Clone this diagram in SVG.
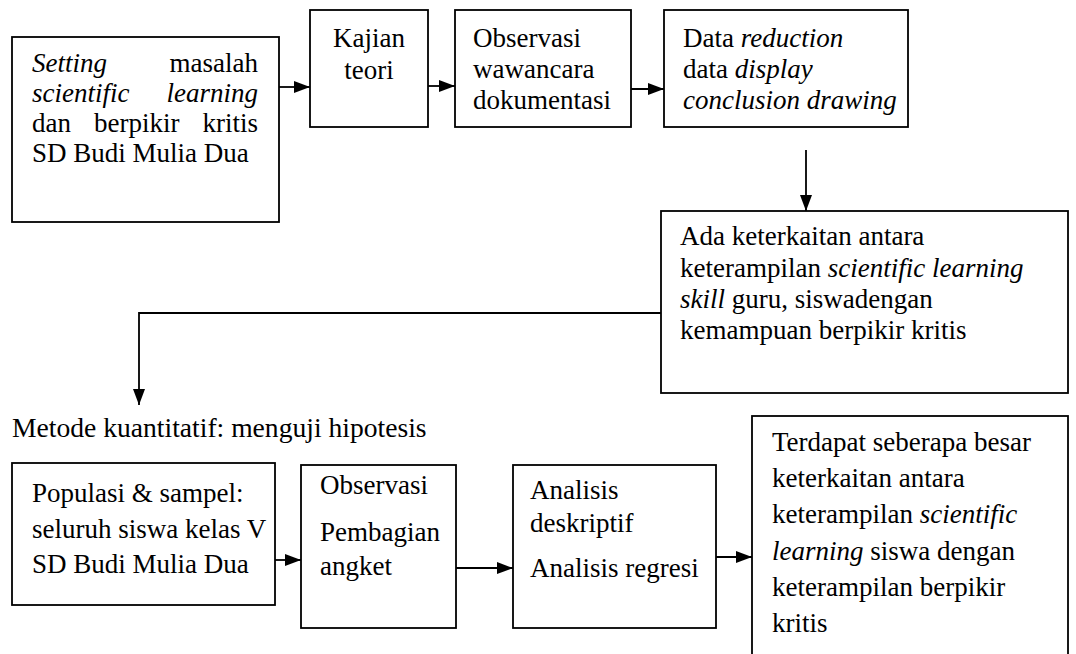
<svg xmlns="http://www.w3.org/2000/svg" width="1076" height="654" viewBox="0 0 1076 654">
<style>
.box{fill:#fff;stroke:#000;stroke-width:1.8}
text{font-family:"Liberation Serif","Times New Roman",serif;font-size:27px;fill:#000}
.i{font-style:italic}
.c{text-anchor:middle}
.e{text-anchor:end}
.con{fill:none;stroke:#000;stroke-width:1.8;marker-end:url(#ah)}
</style>
<defs>
<marker id="ah" markerUnits="userSpaceOnUse" markerWidth="16" markerHeight="12" refX="16" refY="6" orient="auto">
<path d="M0,0 L16,6 L0,12 z" fill="#000"/>
</marker>
</defs>
<rect width="1076" height="654" fill="#fff"/>
<g id="connectors">
<line class="con" x1="279" y1="87" x2="310" y2="87"/>
<line class="con" x1="428" y1="86" x2="455" y2="86"/>
<line class="con" x1="631" y1="89" x2="664" y2="89"/>
<line class="con" x1="806" y1="150" x2="806" y2="211"/>
<polyline class="con" points="661,313 139,313 139,405"/>
<line class="con" x1="275" y1="560" x2="301" y2="560"/>
<line class="con" x1="456" y1="568" x2="513" y2="568"/>
<line class="con" x1="716" y1="557" x2="752" y2="557"/>
</g>
<g id="setting">
<rect class="box" x="12" y="37" width="267" height="185"/>
<text x="32" y="72" class="i">Setting</text><text x="258" y="72" class="e">masalah</text>
<text x="32" y="102" class="i">scientific</text><text x="258" y="102" class="e i">learning</text>
<text x="32" y="132">dan</text><text x="94" y="132">berpikir</text><text x="258" y="132" class="e">kritis</text>
<text x="32" y="162">SD Budi Mulia Dua</text>
</g>
<g id="kajian">
<rect class="box" x="310" y="10" width="118" height="117"/>
<text x="369" y="47" class="c">Kajian</text>
<text x="369" y="79" class="c">teori</text>
</g>
<g id="observasi1">
<rect class="box" x="455" y="10" width="176" height="117"/>
<text x="473" y="47">Observasi</text>
<text x="473" y="78">wawancara</text>
<text x="473" y="109">dokumentasi</text>
</g>
<g id="data">
<rect class="box" x="664" y="10" width="244" height="117"/>
<text x="683" y="47">Data <tspan class="i">reduction</tspan></text>
<text x="683" y="78">data <tspan class="i">display</tspan></text>
<text x="683" y="109" class="i">conclusion drawing</text>
</g>
<g id="keterkaitan">
<rect class="box" x="661" y="211" width="407" height="182"/>
<text x="680" y="245">Ada keterkaitan antara</text>
<text x="680" y="277">keterampilan <tspan class="i">scientific learning</tspan></text>
<text x="680" y="308"><tspan class="i">skill</tspan> guru, siswadengan</text>
<text x="680" y="339">kemampuan berpikir kritis</text>
</g>
<g id="metode">
<text x="12" y="437" style="font-size:27.6px">Metode kuantitatif: menguji hipotesis</text>
</g>
<g id="populasi">
<rect class="box" x="12" y="463" width="263" height="142"/>
<text x="32" y="502">Populasi &amp; sampel:</text>
<text x="32" y="538">seluruh siswa kelas V</text>
<text x="32" y="573">SD Budi Mulia Dua</text>
</g>
<g id="observasi2">
<rect class="box" x="301" y="465" width="155" height="163"/>
<text x="320" y="494">Observasi</text>
<text x="320" y="541">Pembagian</text>
<text x="320" y="575">angket</text>
</g>
<g id="analisis">
<rect class="box" x="513" y="465" width="203" height="163"/>
<text x="530" y="499">Analisis</text>
<text x="530" y="532">deskriptif</text>
<text x="530" y="577">Analisis regresi</text>
</g>
<g id="terdapat">
<rect class="box" x="752" y="416" width="316" height="250"/>
<text x="772" y="451">Terdapat seberapa besar</text>
<text x="772" y="487">keterkaitan antara</text>
<text x="772" y="523">keterampilan <tspan class="i">scientific</tspan></text>
<text x="772" y="560"><tspan class="i">learning</tspan> siswa dengan</text>
<text x="772" y="596">keterampilan berpikir</text>
<text x="772" y="632">kritis</text>
</g>
</svg>
